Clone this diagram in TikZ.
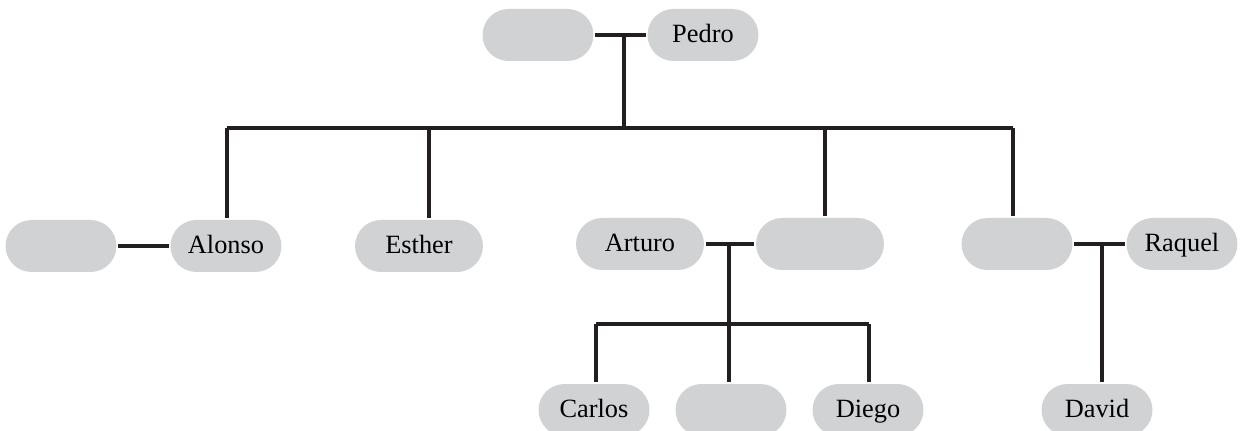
\documentclass[tikz,border=0pt]{standalone}
\usepackage{fontspec}
\setmainfont{Liberation Serif}
\usetikzlibrary{calc}
\definecolor{famgray}{HTML}{D1D2D4}
\definecolor{famline}{HTML}{231F20}
\begin{document}
\begin{tikzpicture}[x=0.02cm,y=-0.02cm,node distance=3.3cm,
	line width=1.8pt,
	main node/.style={fill=famgray,draw=none,inner sep=0pt,minimum width=2.22cm,
		minimum height=1.04cm,rounded corners=0.52cm,text height=10pt,text depth=2pt,
		font=\fontsize{15}{18}\selectfont},
	wide node/.style={main node,minimum width=2.56cm}]
	\useasboundingbox (0,0) rectangle (1244,431);
	
	\node[main node] (Pw) at (538,35) {};
	\node[main node] (Pedro) [right of=Pw] {Pedro};
	
	\node[main node] (Aw) at (61,246) {};
	\node[main node] (Alonso) [right of=Aw] {Alonso};
	\node[wide node] (Esther) at (419,246) {Esther};
	\node[wide node] (Arturo) at (640,244) {Arturo};
	\node[wide node] (Arw) at (820,244) {};
	\node[main node] (Rh) at (1017,244) {};
	\node[main node] (Raquel) [right of=Rh] {Raquel};
	
	\node[main node] (Carlos) at (594,410) {Carlos};
	\node[main node] (Ak) at (731,410) {};
	\node[main node] (Diego) at (868,410) {Diego};
	\node[main node] (David) at (1097,410) {David};
	
	\coordinate (pm) at (624,35);
	\coordinate (pb) at (624,128);
	\coordinate (pb1) at (227,128);
	\coordinate (pb2) at (429,128);
	\coordinate (pb3) at (825,128);
	\coordinate (pb4) at (1013,128);
	\coordinate (am) at (729,244);
	\coordinate (ab) at (729,324);
	\coordinate (ab1) at (596,324);
	\coordinate (ab3) at (869,324);
	\coordinate (rm) at (1102,244);
	
	\path[draw=famline]
	(Pw) edge (Pedro)
	(pm) edge (pb)
	(pb1) edge (pb4)
	(pb1) edge (pb1 |- Alonso.north)
	(pb2) edge (pb2 |- Esther.north)
	(pb3) edge (pb3 |- Arw.north)
	(pb4) edge (pb4 |- Rh.north)
	(Aw) edge (Alonso)
	(Arturo) edge (Arw)
	(am) edge (ab)
	(ab1) edge (ab3)
	(ab1) edge (ab1 |- Carlos.north)
	(ab) edge (ab |- Ak.north)
	(ab3) edge (ab3 |- Diego.north)
	(Rh) edge (Raquel)
	(rm) edge (rm |- David.north)
	;
\end{tikzpicture}
\end{document}
